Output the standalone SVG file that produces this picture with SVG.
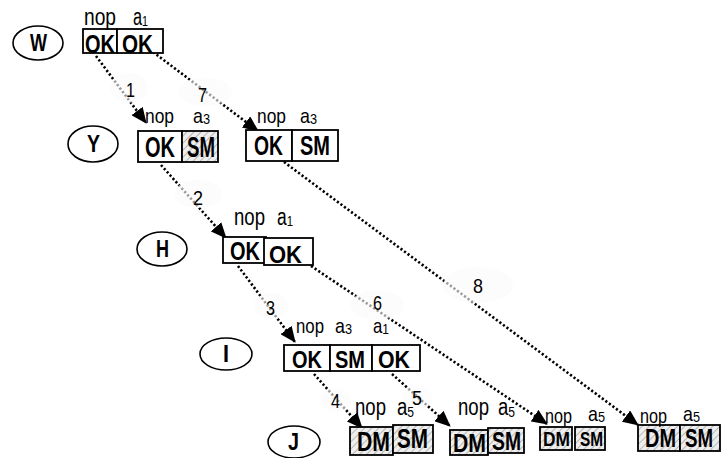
<svg xmlns="http://www.w3.org/2000/svg" width="728" height="458" viewBox="0 0 728 458">
  <style>
    text { font-family: "Liberation Sans", Arial, sans-serif; }
    .state { fill: none; stroke: #000; stroke-width: 1.6; }
    .sname { font-weight: bold; font-size: 23px; }
    .cell { fill: #fff; stroke: #000; stroke-width: 1.8; }
    .hcell { fill: url(#hatch); stroke: #000; stroke-width: 1.8; }
    .val { font-weight: bold; }
    .sub { font-size: 15px; }
    .link { stroke: #000; stroke-width: 2.6; stroke-dasharray: 2.2 2.2; fill: none; marker-end: url(#tip); }
    .halo { fill: #fafafa; fill-opacity: 0.62; stroke: none; }
    .num { font-size: 20px; }
  </style>
  <defs>
    <pattern id="hatch" width="5" height="5" patternUnits="userSpaceOnUse" patternTransform="rotate(45)">
      <rect width="5" height="5" fill="#eeeeee"/>
      <line x1="0" y1="0" x2="0" y2="5" stroke="#b8b8b8" stroke-width="2"/>
    </pattern>
    <marker id="tip" markerUnits="userSpaceOnUse" markerWidth="16" markerHeight="14" refX="15" refY="7" orient="auto">
      <path d="M0,0 L16,7 L0,14 Z" fill="#000"/>
    </marker>
  </defs>

  <!-- connectors -->
  <g id="connectors">
    <line class="link" x1="96" y1="56" x2="146" y2="123"/>
    <line class="link" x1="153" y1="52" x2="258" y2="131"/>
    <line class="link" x1="161" y1="165" x2="226" y2="238"/>
    <line class="link" x1="284" y1="162" x2="638" y2="425"/>
    <line class="link" x1="311" y1="266" x2="547" y2="424"/>
    <line class="link" x1="238" y1="266" x2="295" y2="342"/>
    <line class="link" x1="314" y1="374" x2="362" y2="428"/>
    <line class="link" x1="392" y1="374" x2="450" y2="426"/>
    <g id="link-labels">
      <ellipse class="halo" cx="129" cy="88" rx="19" ry="15"/>
      <text class="num" x="126" y="97" textLength="9" lengthAdjust="spacingAndGlyphs">1</text>
      <ellipse class="halo" cx="205" cy="92" rx="27" ry="14"/>
      <text class="num" x="198" y="102" textLength="9" lengthAdjust="spacingAndGlyphs">7</text>
      <ellipse class="halo" cx="198" cy="194" rx="24" ry="14"/>
      <text class="num" x="193" y="205" textLength="10" lengthAdjust="spacingAndGlyphs">2</text>
      <ellipse class="halo" cx="478" cy="285" rx="35" ry="18"/>
      <text class="num" x="473" y="293" textLength="10" lengthAdjust="spacingAndGlyphs">8</text>
      <ellipse class="halo" cx="377" cy="305" rx="27" ry="15"/>
      <text class="num" x="373" y="310" textLength="9" lengthAdjust="spacingAndGlyphs">6</text>
      <ellipse class="halo" cx="271" cy="306" rx="17" ry="13"/>
      <text class="num" x="266" y="315" textLength="9" lengthAdjust="spacingAndGlyphs">3</text>
      <ellipse class="halo" cx="336" cy="400" rx="15" ry="12"/>
      <text class="num" x="331" y="408" textLength="9" lengthAdjust="spacingAndGlyphs">4</text>
      <ellipse class="halo" cx="417" cy="397" rx="15" ry="12"/>
      <text class="num" x="412" y="405" textLength="10" lengthAdjust="spacingAndGlyphs">5</text>
    </g>
  </g>

  <!-- state W -->
  <g id="W">
    <ellipse class="state" cx="38" cy="43" rx="25" ry="17"/>
    <text class="sname" x="30" y="51" textLength="17" lengthAdjust="spacingAndGlyphs">W</text>
    <rect class="cell" x="83" y="29" width="34" height="24"/>
    <rect class="cell" x="117" y="29" width="46" height="24"/>
    <text class="val" x="85" y="53" font-size="25" textLength="30" lengthAdjust="spacingAndGlyphs">OK</text>
    <text class="val" x="122" y="53" font-size="25" textLength="31" lengthAdjust="spacingAndGlyphs">OK</text>
    <text x="84" y="25" font-size="23" textLength="32" lengthAdjust="spacingAndGlyphs">nop</text>
    <text x="133" y="25" font-size="23" textLength="15" lengthAdjust="spacingAndGlyphs">a<tspan class="sub" dy="1">1</tspan></text>
  </g>

  <!-- state Y -->
  <g id="Y">
    <ellipse class="state" cx="93" cy="144" rx="25" ry="18"/>
    <text class="sname" x="87" y="152" textLength="13" lengthAdjust="spacingAndGlyphs">Y</text>
    <rect class="cell" x="138" y="131" width="44" height="31"/>
    <rect class="hcell" x="182" y="131" width="36" height="31"/>
    <text class="val" x="145" y="157" font-size="29" textLength="30" lengthAdjust="spacingAndGlyphs">OK</text>
    <text class="val" x="187" y="157" font-size="29" textLength="28" lengthAdjust="spacingAndGlyphs">SM</text>
    <text x="145" y="123" font-size="21" textLength="29" lengthAdjust="spacingAndGlyphs">nop</text>
    <text x="193" y="123" font-size="21" textLength="17" lengthAdjust="spacingAndGlyphs">a<tspan class="sub" dy="1">3</tspan></text>
  </g>

  <!-- state Y, second entry -->
  <g id="Y2">
    <rect class="cell" x="246" y="130" width="46" height="31"/>
    <rect class="cell" x="292" y="130" width="46" height="31"/>
    <text class="val" x="254" y="155" font-size="28" textLength="29" lengthAdjust="spacingAndGlyphs">OK</text>
    <text class="val" x="300" y="155" font-size="28" textLength="30" lengthAdjust="spacingAndGlyphs">SM</text>
    <text x="257" y="123" font-size="21" textLength="29" lengthAdjust="spacingAndGlyphs">nop</text>
    <text x="300" y="123" font-size="21" textLength="17" lengthAdjust="spacingAndGlyphs">a<tspan class="sub" dy="1">3</tspan></text>
  </g>

  <!-- state H -->
  <g id="H">
    <ellipse class="state" cx="162" cy="249" rx="25" ry="17"/>
    <text class="sname" x="156" y="257" textLength="13" lengthAdjust="spacingAndGlyphs">H</text>
    <rect class="cell" x="223" y="237" width="43" height="26"/>
    <rect class="cell" x="264" y="238" width="49" height="27"/>
    <text class="val" x="230" y="260" font-size="25" textLength="30" lengthAdjust="spacingAndGlyphs">OK</text>
    <text class="val" x="269" y="263" font-size="24" textLength="33" lengthAdjust="spacingAndGlyphs">OK</text>
    <text x="234" y="225" font-size="23" textLength="31" lengthAdjust="spacingAndGlyphs">nop</text>
    <text x="277" y="225" font-size="23" textLength="16" lengthAdjust="spacingAndGlyphs">a<tspan class="sub" dy="1">1</tspan></text>
  </g>

  <!-- state I -->
  <g id="I">
    <ellipse class="state" cx="226" cy="354" rx="26" ry="16"/>
    <text class="sname" x="223" y="362" textLength="6" lengthAdjust="spacingAndGlyphs">I</text>
    <rect class="cell" x="284" y="345" width="46" height="26"/>
    <rect class="cell" x="330" y="345" width="42" height="26"/>
    <rect class="cell" x="372" y="345" width="48" height="26"/>
    <text class="val" x="292" y="368" font-size="23" textLength="30" lengthAdjust="spacingAndGlyphs">OK</text>
    <text class="val" x="335" y="368" font-size="23" textLength="30" lengthAdjust="spacingAndGlyphs">SM</text>
    <text class="val" x="378" y="368" font-size="23" textLength="32" lengthAdjust="spacingAndGlyphs">OK</text>
    <text x="296" y="333" font-size="21" textLength="28" lengthAdjust="spacingAndGlyphs">nop</text>
    <text x="335" y="333" font-size="21" textLength="17" lengthAdjust="spacingAndGlyphs">a<tspan class="sub" dy="1">3</tspan></text>
    <text x="373" y="333" font-size="21" textLength="16" lengthAdjust="spacingAndGlyphs">a<tspan class="sub" dy="1">1</tspan></text>
  </g>

  <!-- state J -->
  <g id="J">
    <ellipse class="state" cx="294" cy="442" rx="26" ry="16"/>
    <text class="sname" x="288" y="450" textLength="11" lengthAdjust="spacingAndGlyphs">J</text>
  </g>

  <g id="J1">
    <rect class="hcell" x="350" y="427" width="43" height="28"/>
    <rect class="hcell" x="393" y="425" width="40" height="28"/>
    <text class="val" x="357" y="451" font-size="27" textLength="33" lengthAdjust="spacingAndGlyphs">DM</text>
    <text class="val" x="397" y="448" font-size="27" textLength="31" lengthAdjust="spacingAndGlyphs">SM</text>
    <text x="355" y="415" font-size="23" textLength="31" lengthAdjust="spacingAndGlyphs">nop</text>
    <text x="397" y="415" font-size="23" textLength="17" lengthAdjust="spacingAndGlyphs">a<tspan class="sub" dy="2">5</tspan></text>
  </g>

  <g id="J2">
    <rect class="hcell" x="450" y="430" width="38" height="25"/>
    <rect class="hcell" x="488" y="428" width="36" height="25"/>
    <text class="val" x="453" y="452" font-size="26" textLength="33" lengthAdjust="spacingAndGlyphs">DM</text>
    <text class="val" x="492" y="450" font-size="26" textLength="29" lengthAdjust="spacingAndGlyphs">SM</text>
    <text x="458" y="415" font-size="23" textLength="31" lengthAdjust="spacingAndGlyphs">nop</text>
    <text x="498" y="415" font-size="23" textLength="17" lengthAdjust="spacingAndGlyphs">a<tspan class="sub" dy="2">5</tspan></text>
  </g>

  <g id="J3">
    <rect class="hcell" x="540" y="427" width="32" height="23"/>
    <rect class="hcell" x="575" y="427" width="30" height="23"/>
    <text class="val" x="543" y="446" font-size="21" textLength="27" lengthAdjust="spacingAndGlyphs">DM</text>
    <text class="val" x="580" y="446" font-size="21" textLength="23" lengthAdjust="spacingAndGlyphs">SM</text>
    <text x="545" y="423" font-size="21" textLength="27" lengthAdjust="spacingAndGlyphs">nop</text>
    <text x="588" y="421" font-size="21" textLength="17" lengthAdjust="spacingAndGlyphs">a<tspan class="sub" dy="1">5</tspan></text>
  </g>

  <g id="J4">
    <rect class="hcell" x="638" y="425" width="42" height="26"/>
    <rect class="hcell" x="680" y="425" width="40" height="26"/>
    <text class="val" x="645" y="447" font-size="25" textLength="31" lengthAdjust="spacingAndGlyphs">DM</text>
    <text class="val" x="685" y="447" font-size="25" textLength="28" lengthAdjust="spacingAndGlyphs">SM</text>
    <text x="640" y="423" font-size="21" textLength="27" lengthAdjust="spacingAndGlyphs">nop</text>
    <text x="683" y="421" font-size="21" textLength="17" lengthAdjust="spacingAndGlyphs">a<tspan class="sub" dy="1">5</tspan></text>
  </g>
</svg>
